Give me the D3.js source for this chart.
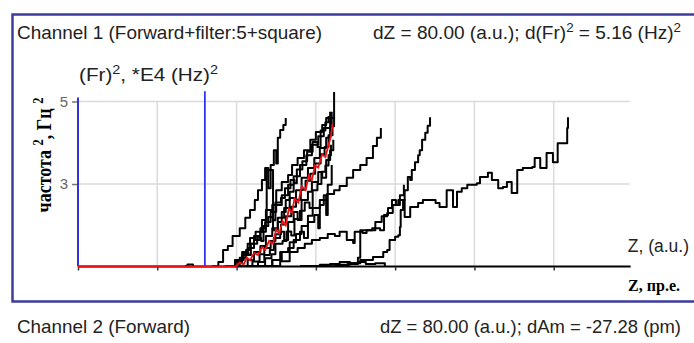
<!DOCTYPE html>
<html>
<head>
<meta charset="utf-8">
<script src="https://cdn.jsdelivr.net/npm/d3@7"></script>
<style>
  body { margin: 0; background: #fff; }
  svg { display: block; }
</style>
</head>
<body>
<svg id="chart" width="694" height="343"></svg>
<script>
// Z in a.u. (10 per grid cell), (Fr)^2 in E4 (Hz)^2
const xTicks = [0, 10, 20, 30, 40, 50, 60];
const yTicks = [3, 5];
const cursorZ = 16.0; // blue marker line

// red (averaged) curve
const redCurve = [[0, 1.0], [19.9, 1.0], [20.4, 1.10], [20.9, 1.05], [21.3, 1.22], [21.7, 1.15], [22.2, 1.33], [22.7, 1.28],
    [23.2, 1.47], [23.6, 1.40], [24.1, 1.62], [24.6, 1.55], [25.0, 1.90], [25.4, 1.80], [25.8, 2.10], [26.2, 2.00],
    [26.6, 2.40], [27.0, 2.30], [27.3, 2.65], [27.8, 2.55], [28.2, 2.95], [28.7, 2.85], [29.1, 3.20], [29.5, 3.10],
    [29.9, 3.45], [30.3, 3.40], [30.8, 3.72], [31.2, 3.65], [31.6, 3.95], [31.9, 4.15], [32.1, 4.45]];

// black single-pass curves
const curveA = [[16.9, 1.01], [17.7, 1.11], [18.3, 1.40], [18.9, 1.50], [19.5, 1.74], [20.4, 1.93], [21.1, 2.18], [21.7, 2.37],
    [22.3, 2.61], [22.7, 2.85], [23.2, 3.10], [23.6, 3.39], [24.0, 2.90], [24.3, 3.46], [24.7, 3.82], [25.0, 3.50],
    [25.2, 4.12], [25.5, 4.31], [25.9, 4.43], [26.2, 4.60]];
const curveS = [[18.5, 1.01], [19.8, 1.16], [20.7, 1.35], [21.4, 1.55], [22.2, 1.74], [23.0, 1.93], [23.6, 2.08], [23.8, 3.34],
    [24.3, 3.34], [24.6, 1.88], [25.2, 2.08], [25.7, 2.32], [26.2, 2.61], [26.7, 2.81], [27.2, 2.98]];
const curveK1 = [[18.9, 1.01], [19.9, 1.11], [20.7, 1.28], [21.4, 1.45], [22.2, 1.64], [23.0, 1.84], [23.7, 2.08], [24.3, 2.32],
    [25.0, 2.49], [25.7, 2.73], [26.5, 2.98], [27.2, 3.19], [28.0, 3.46], [28.8, 3.70], [29.5, 3.95], [30.3, 4.16],
    [31.0, 4.36], [31.8, 4.60], [32.3, 5.23]];
const curveK2 = [[20.4, 1.01], [21.4, 1.16], [22.2, 1.35], [23.0, 1.50], [23.7, 1.74], [24.5, 1.93], [25.2, 2.18], [26.0, 2.42],
    [26.7, 2.66], [27.5, 2.85], [28.2, 3.15], [29.0, 3.39], [29.8, 3.63], [30.5, 3.87], [31.3, 4.12], [31.8, 4.36], [32.0, 4.75]];
const curveK3 = [[19.9, 1.01], [20.4, 1.21], [21.2, 1.40], [21.7, 1.69], [22.4, 1.84], [23.2, 2.13], [23.7, 2.37], [24.5, 2.49],
    [25.0, 2.85], [25.7, 3.05], [26.5, 3.22], [27.0, 3.46], [27.7, 3.63], [28.5, 3.82], [29.3, 4.07], [30.0, 4.26],
    [30.8, 4.43], [31.3, 4.60], [31.8, 4.75]];
const curveK4 = [[21.7, 1.01], [22.7, 1.11], [23.5, 1.28], [24.2, 1.40], [24.7, 1.69], [25.5, 1.84], [26.0, 1.64], [26.5, 2.08],
    [27.2, 2.32], [27.7, 2.13], [28.2, 2.61], [29.0, 2.81], [29.5, 3.05], [30.3, 3.29], [30.8, 3.15], [31.3, 3.58],
    [31.8, 3.82], [32.2, 4.07]];
const curveK5 = [[23.2, 1.01], [24.5, 1.16], [25.5, 1.35], [26.5, 1.45], [27.2, 1.64], [28.0, 1.84], [28.5, 1.69], [29.0, 2.08],
    [29.8, 2.25], [30.3, 1.93], [30.5, 2.49], [31.0, 2.73], [31.3, 2.25], [31.5, 2.98], [32.0, 3.46]];
const curveK6 = [[19.5, 1.01], [20.2, 1.16], [20.9, 1.33], [21.5, 1.28], [21.8, 1.55], [22.6, 1.70], [23.1, 1.62], [23.4, 1.98],
    [24.0, 2.20], [24.6, 2.12], [24.9, 2.55], [25.6, 2.66], [26.1, 2.90], [26.8, 3.10], [27.3, 3.02], [27.6, 3.35],
    [28.3, 3.55], [28.9, 3.78], [29.6, 4.02], [30.2, 3.90], [30.6, 4.30], [31.2, 4.50], [31.6, 4.65]];
const curveK7 = [[21.0, 1.01], [22.0, 1.12], [22.9, 1.30], [23.5, 1.45], [24.3, 1.62], [24.9, 1.78], [25.6, 2.02], [26.2, 2.22],
    [26.9, 2.45], [27.5, 2.62], [28.1, 2.86], [28.7, 3.08], [29.3, 3.25], [29.9, 3.50], [30.6, 3.72], [31.1, 3.90],
    [31.6, 4.18], [32.1, 4.40], [32.3, 4.62]];
const curveK8 = [[22.5, 1.01], [23.6, 1.20], [24.4, 1.30], [24.9, 1.55], [25.8, 1.62], [26.3, 1.85], [26.9, 1.75], [27.3, 2.15],
    [28.0, 2.35], [28.6, 2.55], [29.2, 2.42], [29.6, 2.85], [30.2, 3.00], [30.7, 3.30], [31.2, 3.45], [31.6, 3.70], [31.9, 3.95]];
const curveC = [[23.2, 1.01], [24.5, 1.16], [25.7, 1.35], [26.7, 1.59], [27.5, 1.79], [28.2, 1.98], [29.0, 2.23], [29.6, 2.42],
    [30.5, 2.61], [31.4, 2.76], [32.3, 2.85], [33.0, 2.95], [33.9, 3.15], [34.7, 3.34], [35.6, 3.46], [36.4, 3.63],
    [37.2, 3.92], [37.7, 4.12], [38.2, 4.36]];
const curveD = [[24.0, 1.01], [25.5, 1.13], [26.7, 1.35], [27.7, 1.45], [28.6, 1.55], [29.5, 1.64], [30.5, 1.69], [31.5, 1.79],
    [32.4, 1.74], [33.0, 1.84], [33.9, 1.64], [34.7, 1.57], [34.9, 1.84], [35.9, 1.81], [36.4, 1.88], [37.5, 2.08],
    [38.3, 2.22], [39.0, 2.30], [39.7, 2.49], [40.4, 2.61], [41.2, 2.20], [41.9, 2.44], [42.9, 2.54], [43.5, 2.61],
    [44.4, 2.61], [45.1, 2.54], [45.6, 2.44], [46.5, 2.85], [47.3, 2.44], [47.8, 2.81], [48.4, 2.90], [49.1, 2.98],
    [50.3, 3.02], [50.7, 3.17], [51.7, 3.27], [52.2, 3.10], [53.0, 2.90], [53.6, 2.93], [54.1, 3.05], [54.7, 2.78],
    [55.4, 3.34], [56.1, 3.39], [57.3, 3.41], [57.6, 3.63], [58.3, 3.39], [59.1, 3.75], [59.9, 3.53], [60.5, 3.99],
    [61.2, 3.99], [61.7, 4.36], [61.8, 4.62]];
const curveE = [[28.0, 1.01], [30.5, 1.04], [33.0, 1.04], [34.3, 1.08], [35.6, 1.16], [37.2, 1.23], [38.5, 1.35], [39.0, 1.40],
    [39.3, 1.64], [40.0, 1.72], [40.4, 1.76], [40.6, 1.96], [40.7, 2.37], [41.0, 2.61], [41.2, 2.85], [41.6, 3.17],
    [41.9, 3.10], [42.1, 3.34], [42.5, 3.53], [42.9, 3.70], [43.1, 3.82], [43.4, 4.07], [43.8, 4.24], [44.1, 4.41], [44.4, 4.62]];
const curveF = [[32.4, 1.01], [34.0, 1.06], [35.3, 1.21], [35.6, 1.88], [37.1, 1.93], [38.1, 1.88], [38.6, 2.25], [39.1, 2.42],
    [39.6, 2.61], [40.1, 2.49], [40.6, 2.73], [41.1, 2.98]];
const curveG = [[30.3, 1.01], [31.8, 1.06], [33.0, 1.11], [34.3, 1.08], [35.3, 1.11], [36.3, 1.06], [37.5, 1.08], [38.7, 1.01]];
const curveH = [[13.5, 1.01], [13.8, 1.05], [14.2, 1.05], [14.5, 1.01]];

const blackCurves = [curveG, curveH, curveD, curveE, curveF, curveC, curveA, curveS,
    curveK8, curveK7, curveK6, curveK5, curveK4, curveK3, curveK2, curveK1];

const svg = d3.select('#chart');

const x = d3.scaleLinear().domain([0, 70]).range([78, 633]);
const y = d3.scaleLinear().domain([1, 5]).range([266.5, 101.5]);

// outer frame (top, left, bottom)
const frameColor = '#3d3d9e';
svg.append('path')
    .attr('d', 'M694,14.5 H12.5 V301.5 H694')
    .attr('fill', 'none')
    .attr('stroke', frameColor)
    .attr('stroke-width', 2.5);

// grid
svg.append('g')
    .selectAll('line')
    .data(xTicks.slice(1))
    .join('line')
    .attr('x1', d => x(d)).attr('x2', d => x(d))
    .attr('y1', y(5)).attr('y2', y(1))
    .attr('stroke', '#dadada')
    .attr('stroke-width', 1.5);

svg.append('g')
    .selectAll('line')
    .data(yTicks)
    .join('line')
    .attr('x1', x(0)).attr('x2', x(69.6))
    .attr('y1', d => y(d)).attr('y2', d => y(d))
    .attr('stroke', '#dadada')
    .attr('stroke-width', 1.5);

// x axis
let xAxis = svg.append('g')
    .attr('transform', `translate(0,${y(1)})`)
    .call(d3.axisBottom(x).tickValues(xTicks).tickSize(4).tickSizeOuter(0).tickFormat(''));
xAxis.select('.domain')
    .attr('d', `M${x(0)},0 H${x(69.7)}`)
    .attr('stroke', '#000')
    .attr('stroke-width', 2.2);
xAxis.selectAll('.tick line').attr('stroke', '#333').attr('stroke-width', 1.5);

// y axis
let yAxis = svg.append('g')
    .attr('transform', `translate(${x(0)},0)`)
    .call(d3.axisLeft(y).tickValues(yTicks).tickSize(6).tickSizeOuter(0).tickFormat(d3.format('d')));
yAxis.select('.domain').remove();
yAxis.selectAll('.tick line').attr('stroke', '#777').attr('stroke-width', 1.5);
yAxis.selectAll('.tick text')
    .attr('x', -10)
    .attr('fill', '#666')
    .style('font-family', 'Liberation Sans, Arial, sans-serif')
    .style('font-size', '15px');

svg.append('line')
    .attr('x1', x(0)).attr('x2', x(0))
    .attr('y1', y(5.1)).attr('y2', y(1))
    .attr('stroke', '#3333dd')
    .attr('stroke-width', 2);

svg.append('line')
    .attr('x1', x(cursorZ)).attr('x2', x(cursorZ))
    .attr('y1', y(5.25)).attr('y2', y(1))
    .attr('stroke', '#3333ee')
    .attr('stroke-width', 1.8);

// curves
let stepLine = d3.line()
    .x(d => x(d[0]))
    .y(d => y(d[1]))
    .curve(d3.curveStepAfter);

svg.append('g')
    .selectAll('path')
    .data(blackCurves)
    .join('path')
    .attr('d', stepLine)
    .attr('fill', 'none')
    .attr('stroke', '#000')
    .attr('stroke-width', 2)
    .attr('stroke-linejoin', 'round');

svg.append('path')
    .datum(redCurve)
    .attr('d', d3.line().x(d => x(d[0])).y(d => y(d[1])))
    .attr('fill', 'none')
    .attr('stroke', '#ee1111')
    .attr('stroke-width', 1.8);

// texts
const sans = 'Liberation Sans, Arial, sans-serif';
const serif = 'Liberation Serif, Times New Roman, serif';

function addText(px, py, parts, opts) {
    let t = svg.append('text')
        .attr('x', px).attr('y', py)
        .attr('text-anchor', opts.anchor || 'start')
        .attr('fill', opts.fill || '#222')
        .style('font-family', opts.font || sans)
        .style('font-size', opts.size + 'px')
        .style('font-weight', opts.weight || 'normal');
    if (opts.transform) t.attr('transform', opts.transform);
    if (opts.length) t.attr('textLength', opts.length).attr('lengthAdjust', 'spacingAndGlyphs');
    let up = false;
    parts.forEach(p => {
        let sup = p.startsWith('^');
        let s = t.append('tspan').text(sup ? p.slice(1) : p);
        if (sup && !up) { s.attr('dy', -opts.size * 0.38).style('font-size', (opts.size * 0.7) + 'px'); up = true; }
        else if (!sup && up) { s.attr('dy', opts.size * 0.38); up = false; }
        else if (sup) s.style('font-size', (opts.size * 0.7) + 'px');
    });
    return t;
}

addText(17, 39, ['Channel 1 (Forward+filter:5+square)'], { size: 18.5, length: 305 });
addText(681, 39, ['dZ = 80.00 (a.u.); d(Fr)', '^2', ' = 5.16 (Hz)', '^2'], { size: 18.5, anchor: 'end', length: 308 });
addText(79, 81, ['(Fr)', '^2', ', *E4 (Hz)', '^2'], { size: 18.5, length: 139 });
addText(689, 252, ['Z, (a.u.)'], { size: 17.5, anchor: 'end' });
addText(680, 291, ['Z, пр.е.'], { size: 16, anchor: 'end', font: serif, weight: 'bold', fill: '#000' });
addText(17, 333, ['Channel 2 (Forward)'], { size: 18.5, length: 173 });
addText(681, 333, ['dZ = 80.00 (a.u.); dAm = -27.28 (pm)'], { size: 18.5, anchor: 'end', length: 301 });

addText(0, 0, ['частота ', '^2', ', Гц ', '^2'], {
    size: 16, anchor: 'middle', font: serif, weight: 'bold', fill: '#000', length: 115,
    transform: 'translate(51,155) rotate(-90) scale(1,1.25)'
});
</script>
</body>
</html>
